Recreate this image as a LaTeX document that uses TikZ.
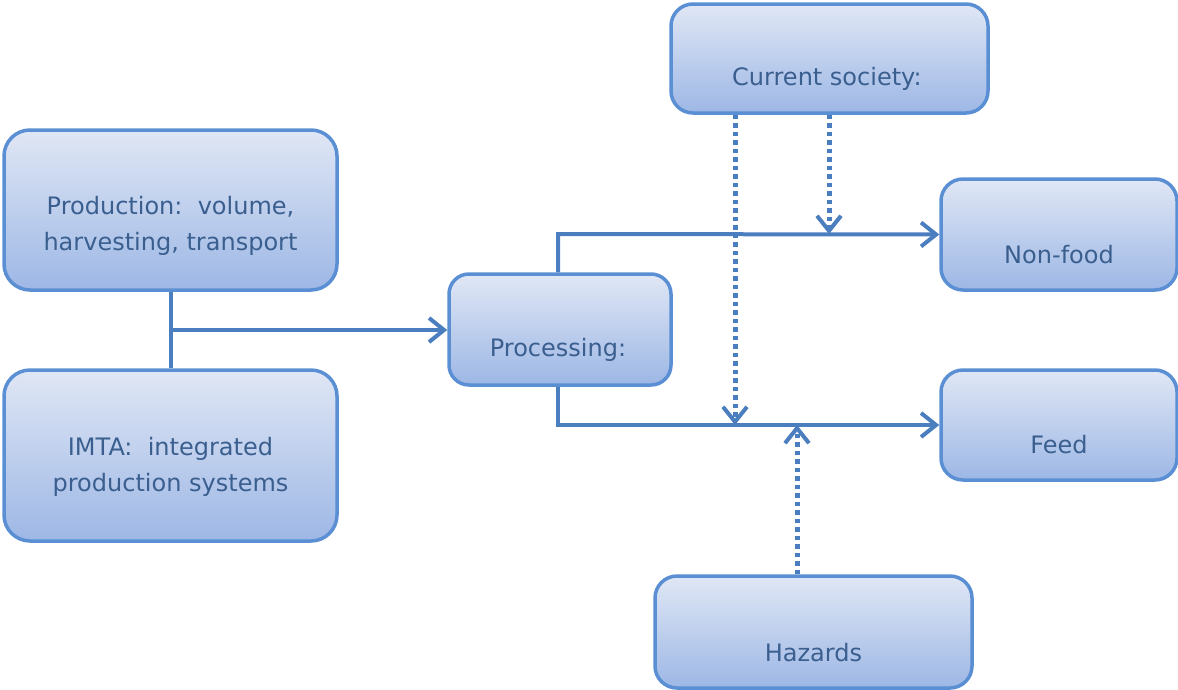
\documentclass[tikz,border=0pt]{standalone}
\usepackage{fontspec}
\setmainfont{DejaVu Sans}
\usetikzlibrary{arrows.meta}
\definecolor{boxborder}{HTML}{5A8FD4}
\definecolor{boxtop}{HTML}{E0E7F5}
\definecolor{boxbot}{HTML}{9DB7E5}
\definecolor{linecol}{HTML}{4A7EBE}
\definecolor{txtcol}{HTML}{3A5F8F}
\tikzset{
  box/.style={draw=boxborder, line width=3.5pt, top color=boxtop, bottom color=boxbot,
    rounded corners=#1, inner sep=0pt},
  box/.default=22pt,
  boxtext/.style={text=txtcol, font=\fontsize{24}{36}\selectfont, align=center},
  conn/.style={draw=linecol, line width=4pt},
  arr/.style={conn, -{Straight Barb[length=15pt, width=24pt, line width=4pt]}},
  dotarr/.style={draw=linecol, line width=5pt, dash pattern=on 4.5pt off 4pt,
    -{Straight Barb[length=15pt, width=24pt, line width=4pt, sep=0pt]}},
}
\begin{document}
\begin{tikzpicture}[x=1pt,y=-1pt]
\useasboundingbox (0,0) rectangle (1178,689);
% boxes
\node[box=26pt, minimum width=333pt, minimum height=160pt] (prod) at (170.5,210) {};
\node[box=26pt, minimum width=333pt, minimum height=171pt] (imta) at (170.5,455.5) {};
\node[box=20pt, minimum width=222pt, minimum height=111pt] (proc) at (560,329.5) {};
\node[box=22pt, minimum width=317pt, minimum height=109pt] (soc) at (829.5,58.5) {};
\node[box=22pt, minimum width=236pt, minimum height=111pt] (nonfood) at (1059,234.5) {};
\node[box=22pt, minimum width=236pt, minimum height=110pt] (feed) at (1059,425) {};
\node[box=22pt, minimum width=317pt, minimum height=112pt] (haz) at (813.5,632) {};
% texts
\node[boxtext] (prodt) at (170.5,226) {Production:\ \ volume,\\harvesting,\ transport};
\node[boxtext] (imtat) at (170.5,467) {IMTA:\ \ integrated\\production systems};
\node[boxtext] (proct) at (558,350) {Processing:};
\node[boxtext] (soct) at (827,79) {Current society:};
\node[boxtext] (nonfoodt) at (1059,255) {Non-food};
\node[boxtext] (feedt) at (1059,445) {Feed};
\node[boxtext] (hazt) at (813.5,653) {Hazards};
% connectors
\coordinate (j1) at (prod.south |- 0,330);
\draw[conn] (prod.south) -- (imta.north);
\draw[arr] (j1) -- (proc.west |- j1);
\coordinate (ptop) at (558,0);
\draw[arr] (proc.north -| ptop) -- (558,234) -- (nonfood.west);
\draw[arr] (proc.south -| ptop) -- (558,425) -- (feed.west);
\coordinate (d1) at (735,0);
\coordinate (d2) at (829,0);
\coordinate (d3) at (797,0);
\draw[dotarr] (soc.south -| d1) -- (735,425);
\draw[dotarr] (soc.south -| d2) -- (829,234);
\draw[dotarr] (haz.north -| d3) -- (797,425);
\end{tikzpicture}
\end{document}
